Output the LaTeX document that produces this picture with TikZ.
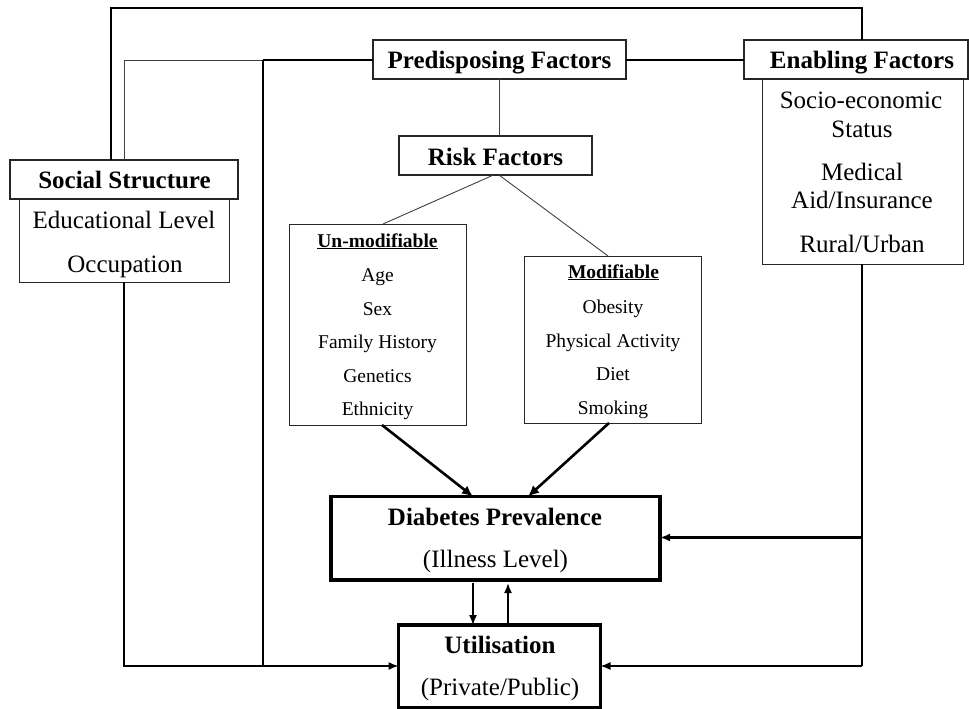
\documentclass[tikz,border=0pt]{standalone}
\usepackage{fontspec}
\setmainfont{Liberation Serif}
\usetikzlibrary{arrows.meta,calc}
\newcommand\bigfnt{\fontsize{25}{30}\selectfont}
\newcommand\smallfnt{\fontsize{19.5}{23}\selectfont}
\tikzset{
  box/.style={draw=black!85, line width=1pt, inner sep=0pt, outer sep=0pt},
  hdrbox/.style={draw=black!85, line width=1.3pt, inner sep=0pt, outer sep=0pt},
  bigbox/.style={draw=black, line width=3.3pt, inner sep=0pt, outer sep=0pt},
  btxt/.style={anchor=base, inner sep=0pt, font=\bigfnt\bfseries},
  rtxt/.style={anchor=base, inner sep=0pt, font=\bigfnt},
  stxt/.style={anchor=base, inner sep=0pt, font=\smallfnt},
  sbtxt/.style={anchor=base, inner sep=0pt, font=\smallfnt\bfseries},
  outerln/.style={draw=black, line width=2.2pt},
  medln/.style={draw=black, line width=1.5pt},
  thinln/.style={draw=black!75, line width=0.9pt},
  arr/.style={-{Latex[length=10pt,width=8pt]}},
  thickarr/.style={draw=black, line width=2.6pt, -{Latex[length=11pt,width=10pt]}},
}
\begin{document}
\begin{tikzpicture}[x=1pt,y=1pt]
\useasboundingbox (0,0) rectangle (969,-709);
% boxes
\node[hdrbox, minimum width=228pt, minimum height=39pt] (soch) at (124,-179.5) {};
\node[box, minimum width=210pt, minimum height=83pt] (socb) at (124,-240.5) {};
\node[hdrbox, minimum width=253pt, minimum height=39pt] (pred) at (499.5,-59.5) {};
\node[hdrbox, minimum width=224pt, minimum height=39pt] (enabh) at (856,-59.5) {};
\node[box, minimum width=201pt, minimum height=185pt] (enabb) at (862.5,-171.5) {};
\node[hdrbox, minimum width=193pt, minimum height=39pt] (risk) at (495.5,-155.5) {};
\node[box, minimum width=177pt, minimum height=201pt] (unmod) at (377.5,-324.5) {};
\node[box, minimum width=177pt, minimum height=167pt] (mod) at (612.5,-339.5) {};
\node[bigbox, minimum width=329pt, minimum height=83.5pt] (diab) at (495.5,-538.25) {};
\node[bigbox, minimum width=202pt, minimum height=83pt] (util) at (499.5,-666.5) {};
% texts
\node[btxt] (tsoc) at (124.5,-188) {Social Structure};
\node[rtxt] (tedu) at (124,-228) {Educational Level};
\node[rtxt] (tocc) at (125,-272) {Occupation};
\node[btxt] (tpred) at (499.5,-69) {Predisposing Factors};
\node[btxt] (tenab) at (862,-69) {Enabling Factors};
\node[rtxt] (tse1) at (861,-108) {Socio-economic};
\node[rtxt] (tse2) at (862,-137) {Status};
\node[rtxt] (tma1) at (862,-180) {Medical};
\node[rtxt] (tma2) at (862,-208) {Aid/Insurance};
\node[rtxt] (tru) at (862,-252) {Rural/Urban};
\node[btxt] (trisk) at (495.5,-165) {Risk Factors};
\node[sbtxt] (tun) at (377.5,-247) {\underline{Un-modifiable}};
\node[stxt] (tage) at (377.5,-281) {Age};
\node[stxt] (tsex) at (377.5,-315) {Sex};
\node[stxt] (tfam) at (377.5,-348) {Family History};
\node[stxt] (tgen) at (377.5,-382) {Genetics};
\node[stxt] (teth) at (377.5,-415) {Ethnicity};
\node[sbtxt] (tmod) at (613.5,-278) {\underline{Modifiable}};
\node[stxt] (tobe) at (613,-313) {Obesity};
\node[stxt] (tphy) at (613,-347) {Physical Activity};
\node[stxt] (tdie) at (613,-380) {Diet};
\node[stxt] (tsmo) at (613,-414) {Smoking};
\node[btxt] (tdiab) at (495,-525) {Diabetes Prevalence};
\node[rtxt] (till) at (495.5,-567) {(Illness Level)};
\node[btxt] (tutil) at (500,-653) {Utilisation};
\node[rtxt] (tpriv) at (500,-695) {(Private/Public)};
% junction coordinates
\coordinate (o1) at (111,-8);
\coordinate (o2) at (862,-8);
\coordinate (j1) at (263,-60);
\coordinate (j2) at (263,-666);
\coordinate (j3) at (862,-666);
\coordinate (j4) at (862,-537.5);
% connectors
\draw[outerln] (soch.north -| o1) |- (o2) -- (enabh.north -| o2);
\draw[thinln] (soch.north) |- (j1);
\draw[outerln] (j1) -- (j1 -| pred.west);
\draw[outerln] (j1) -- (j2);
\draw[medln] (socb.south) |- (j2);
\draw[medln, arr] (j2) -- (j2 -| util.west);
\draw[outerln] (pred.east |- j1) -- (enabh.west |- j1);
\draw[thinln] (pred.south) -- (pred.south |- risk.north);
\draw[thinln] ($(risk.south)+(-2,0)$) -- ($(unmod.north)+(5.5,0)$);
\draw[thinln] ($(risk.south)+(3.5,0)$) -- ($(mod.north)+(-4.5,0)$);
\draw[thickarr] ($(unmod.south)+(4.5,0)$) -- ($(diab.north)+(-22.5,0)$);
\draw[thickarr] ($(mod.south)+(-3.5,0)$) -- ($(diab.north)+(32.5,0)$);
\draw[medln, line width=1.3pt, arr] ($(diab.south)+(-22.5,-3)$) -- ($(util.north)+(-26.5,0)$);
\draw[medln, line width=1.7pt, arr] ($(util.north)+(8.5,0)$) -- ($(diab.south)+(12.5,-3)$);
\draw[outerln] (enabb.south -| j3) -- (j3);
\draw[outerln, arr] (j4) -- (j4 -| diab.east);
\draw[medln, arr] (j3) -- (j3 -| util.east);
\end{tikzpicture}
\end{document}
